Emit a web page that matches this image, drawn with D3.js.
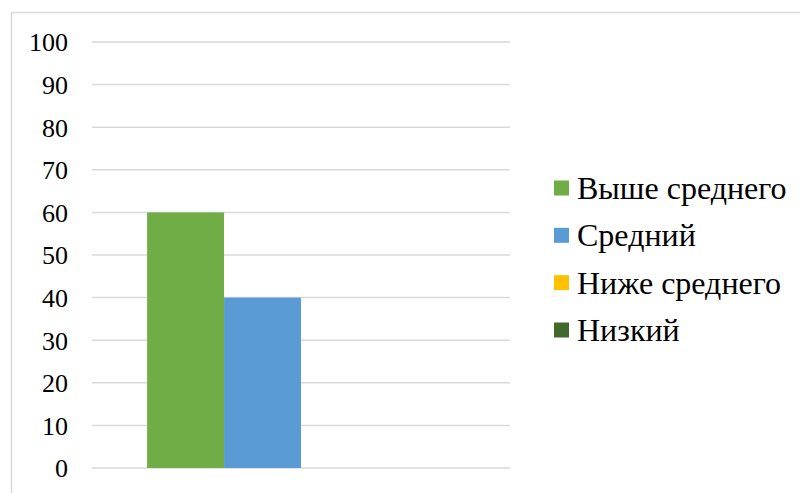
<!DOCTYPE html>
<html>
<head>
<meta charset="utf-8">
<script src="https://cdn.jsdelivr.net/npm/d3@7"></script>
<style>
  html, body { margin: 0; padding: 0; background: #fff; }
  svg { display: block; }
</style>
</head>
<body>
<script>
// Chart data
const categories = ["Уровень"];
const seriesNames = ["Выше среднего", "Средний", "Ниже среднего", "Низкий"];
const seriesValues = [60, 40, 0, 0];
const seriesColors = ["#70AD47", "#5B9BD5", "#FFC000", "#43682B"];
const yTicks = [0, 10, 20, 30, 40, 50, 60, 70, 80, 90, 100];

const W = 800, H = 493;
const serif = '"Liberation Serif"';

const svg = d3.select("body").append("svg")
  .attr("width", W).attr("height", H);

// Chart area frame (top and left edges)
svg.append("path")
  .attr("d", `M11.5,${H} V12.5 H${W}`)
  .attr("fill", "none")
  .attr("stroke", "#d9d9d9")
  .attr("stroke-width", 1.5);

const plot = { left: 92, right: 510, top: 42, bottom: 468 };

const y = d3.scaleLinear().domain([0, 100]).range([plot.bottom, plot.top]);
const x0 = d3.scaleBand().domain(categories)
  .range([plot.left, plot.right]).paddingInner(0).paddingOuter(0.179);
const x1 = d3.scaleBand().domain(seriesNames)
  .range([0, x0.bandwidth()]).padding(0);

// Gridlines
svg.append("g")
  .selectAll("line")
  .data(yTicks)
  .join("line")
  .attr("x1", plot.left).attr("x2", plot.right)
  .attr("y1", d => y(d)).attr("y2", d => y(d))
  .attr("stroke", "#d9d9d9")
  .attr("stroke-width", 1.5);

// Y axis labels
const yAxis = d3.axisLeft(y).tickValues(yTicks).tickSize(0).tickPadding(0);
const gy = svg.append("g")
  .attr("transform", `translate(68,0)`)
  .call(yAxis);
gy.select(".domain").remove();
gy.selectAll("text")
  .style("font-family", serif)
  .style("font-size", "26px")
  .attr("fill", "#000")
  .attr("dy", "0.34em");

// Bars
const rows = seriesNames.map((s, i) => ({ cat: categories[0], name: s, value: seriesValues[i], color: seriesColors[i] }));
svg.append("g")
  .selectAll("rect")
  .data(rows)
  .join("rect")
  .attr("x", d => x0(d.cat) + x1(d.name))
  .attr("y", d => y(d.value))
  .attr("width", x1.bandwidth())
  .attr("height", d => y(0) - y(d.value))
  .attr("fill", d => d.color);

// Legend
const legend = svg.append("g").attr("transform", "translate(554,0)");
const legY = d3.scalePoint().domain(seriesNames).range([188, 330]);
const item = legend.selectAll("g")
  .data(rows)
  .join("g")
  .attr("transform", d => `translate(0,${legY(d.name)})`);
item.append("rect")
  .attr("x", 0).attr("y", -7.5)
  .attr("width", 15).attr("height", 15)
  .attr("fill", d => d.color);
item.append("text")
  .attr("x", 23)
  .attr("dy", "0.34em")
  .style("font-family", serif)
  .style("font-size", "32px")
  .attr("fill", "#000")
  .text(d => d.name);
</script>
</body>
</html>
